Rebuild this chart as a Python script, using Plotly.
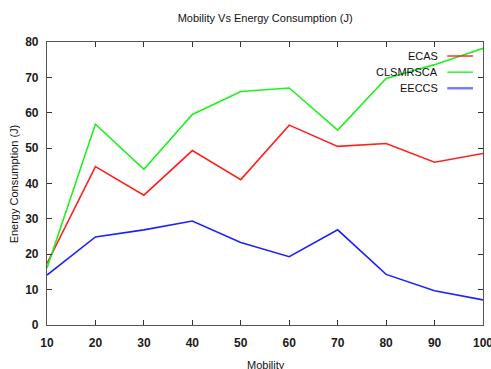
import plotly.graph_objects as go

# Mobility levels and the energy consumed (J) by each scheme
mobility = [10, 20, 30, 40, 50, 60, 70, 80, 90, 100]
ecas = [17.4, 44.8, 36.7, 49.3, 41.1, 56.5, 50.5, 51.3, 46.0, 48.5]
clsmrsca = [16.1, 56.8, 44.0, 59.5, 66.0, 67.0, 55.1, 69.7, 73.6, 78.2]
eeccs = [14.1, 24.9, 26.9, 29.4, 23.3, 19.3, 26.9, 14.3, 9.7, 7.1]

x_ticks = [10, 20, 30, 40, 50, 60, 70, 80, 90, 100]
y_ticks = [0, 10, 20, 30, 40, 50, 60, 70, 80]

series = [
    ("ECAS", ecas, "#ff2020", "#ff2020", 1.4),
    ("CLSMRSCA", clsmrsca, "#20f020", "#20f020", 1.4),
    ("EECCS", eeccs, "#2020ff", "#7878ff", 2.4),
]

FONT = "'Liberation Sans', Arial, sans-serif"
TEXT = dict(family=FONT, size=11, color="#111111")

fig = go.Figure()
for name, vals, col, _, _ in series:
    fig.add_trace(go.Scatter(x=mobility, y=vals, mode="lines", name=name,
                             line=dict(color=col, width=1.6), showlegend=False))

axis_common = dict(
    showline=True, mirror="ticks", linecolor="#555555", linewidth=1.2,
    ticks="inside", ticklen=5, tickcolor="#333333", tickwidth=1,
    showgrid=False, zeroline=False, automargin=False,
    ticklabeloverflow="allow",
    tickfont=dict(family=FONT, size=12, color="#1a1a1a", weight="bold"),
)

fig.update_layout(
    width=491, height=369,
    margin=dict(l=47, r=8, t=42, b=44),
    paper_bgcolor="white", plot_bgcolor="white",
    font=dict(family=FONT, color="#111111"),
    title=dict(text="Mobility Vs Energy Consumption (J)", x=0.54, xanchor="center",
               y=1 - 18 / 369, yanchor="middle", font=TEXT),
    xaxis=dict(range=[10, 100], tickvals=x_ticks, ticklabelstandoff=6, **axis_common),
    yaxis=dict(range=[0, 80], tickvals=y_ticks, ticklabelstandoff=5, **axis_common),
    showlegend=False,
)

# Axis titles
fig.add_annotation(x=0.502, y=-0.141, xref="paper", yref="paper", text="Mobility",
                   showarrow=False, xanchor="center", yanchor="middle", font=TEXT)
fig.add_annotation(x=-0.076, y=0.5, xref="paper", yref="paper",
                   text="Energy Consumption (J)", textangle=-90,
                   showarrow=False, xanchor="center", yanchor="middle", font=TEXT)

# Key in the upper right: label first, line sample after it
key_y = [0.9505, 0.8935, 0.8365]
for (name, _, _, key_col, key_w), ky in zip(series, key_y):
    fig.add_annotation(x=0.902, y=ky, xref="paper", yref="paper", text=name,
                       showarrow=False, xanchor="right", yanchor="middle", font=TEXT)
    fig.add_shape(type="line", xref="paper", yref="paper",
                  x0=0.918, x1=0.977, y0=ky, y1=ky,
                  line=dict(color=key_col, width=key_w))

fig.write_html("out.html")
